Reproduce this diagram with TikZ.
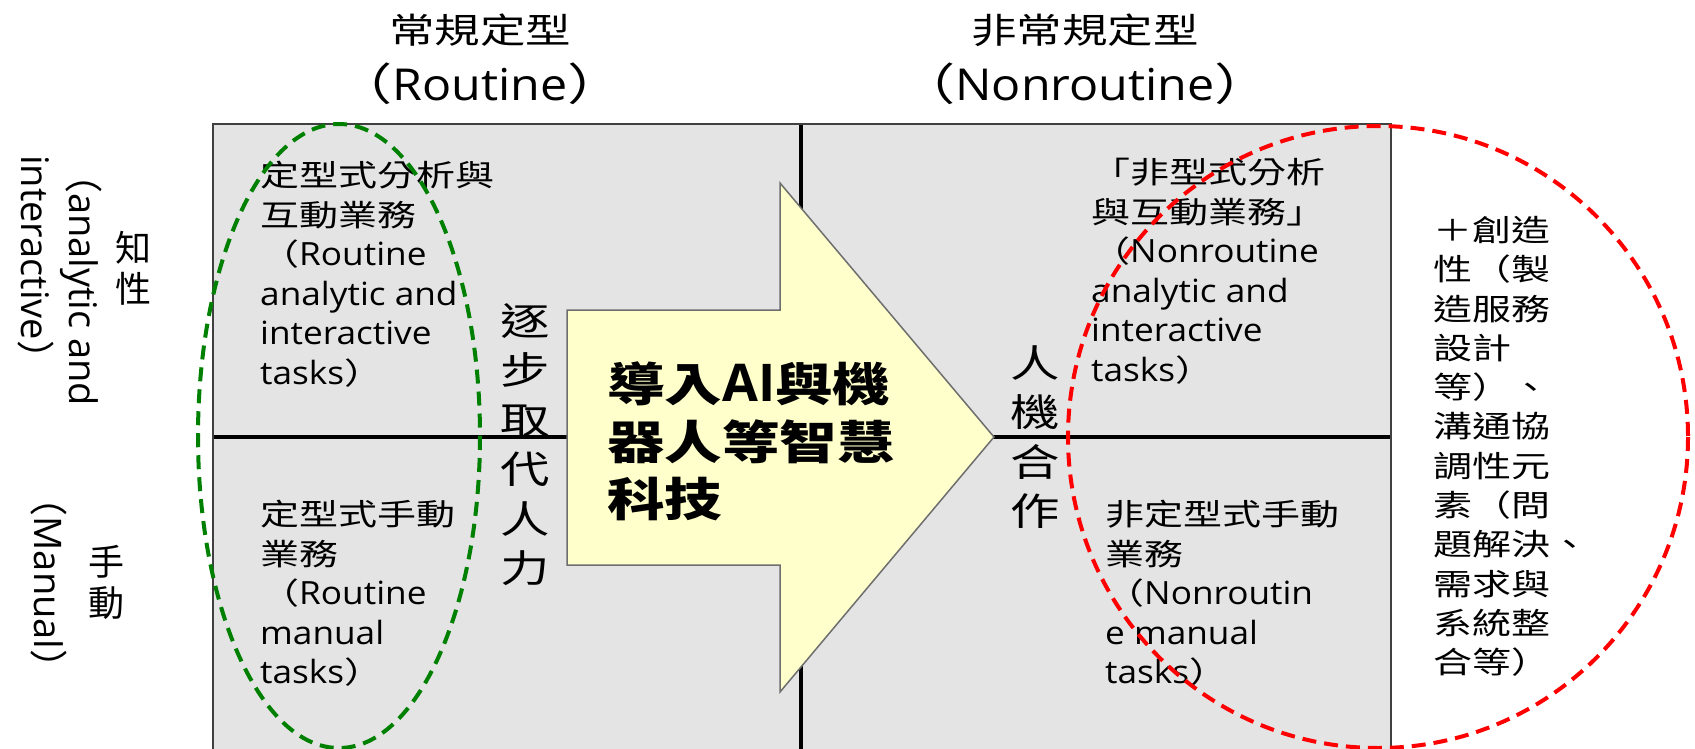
\documentclass[tikz,border=0pt]{standalone}
\usepackage{fontspec}
\usepackage{graphicx}
\setmainfont{Open Sans}
\newfontfamily\cjkS{Noto Sans CJK TC}[FakeStretch=1.3]
\newfontfamily\cjkT{Noto Sans CJK TC}[FakeStretch=1.25]
\newfontfamily\cjkN{Noto Sans CJK TC}
\newfontfamily\latS{Open Sans}[FakeStretch=1.1]
\newfontfamily\latN{Open Sans}
\newcommand\La[1]{{\latS\fontsize{32}{39.5}\selectfont #1}}
\newcommand\Ln[1]{{\latN #1}}
\definecolor{cellgray}{RGB}{228,228,228}
\definecolor{arrowyellow}{RGB}{255,255,204}
\definecolor{arrowedge}{RGB}{110,110,110}
\definecolor{ellgreen}{RGB}{0,128,0}
\definecolor{ellred}{RGB}{255,0,0}
\definecolor{bordergray}{RGB}{64,64,64}
\tikzset{
  cell/.style={font=\cjkS\fontsize{30}{39.5}\selectfont, align=left, inner sep=0pt, anchor=north west},
  vstack/.style={font=\cjkS\fontsize{38}{49.5}\selectfont, align=center, inner sep=0pt, anchor=north},
  title/.style={font=\cjkS\fontsize{35}{57}\selectfont, align=center, inner sep=0pt, anchor=north},
  sidecjk/.style={font=\cjkN\fontsize{36}{41}\selectfont, align=center, inner sep=0pt},
  sidelat/.style={font=\cjkN\fontsize{38}{48}\selectfont, align=left, inner sep=0pt, rotate=-90},
  dashell/.style={line width=4pt, dash pattern=on 14pt off 8pt},
}
\begin{document}
\begin{tikzpicture}[x=1pt,y=-1pt]
\useasboundingbox (0,0) rectangle (1695,749);
% grid
\fill[cellgray] (213,124) rectangle (1391,755);
\coordinate (midtop) at (801,124);
\coordinate (midbot) at (801,755);
\coordinate (midl) at (213,437);
\coordinate (midr) at (1391,437);
\draw[line width=4pt] (midtop) -- (midbot);
\draw[line width=3.5pt] (midl) -- (midr);
\draw[bordergray, line width=2pt] (213,755) -- (213,124) -- (1391,124) -- (1391,755);
% arrow
\draw[fill=arrowyellow, draw=arrowedge, line width=1.5pt]
  (567,310) -- (780,310) -- (780,183) -- (994,437) -- (780,692) -- (780,565) -- (567,565) -- cycle;
% titles
\node[title] (t1) at (480,14) {常規定型\\{\fontsize{44}{57}\selectfont （{\latS Routine}）}};
\node[title] (t2) at (1085,14) {非常規定型\\{\fontsize{44}{57}\selectfont （{\latS Nonroutine}）}};
% side labels
\node[sidecjk] (zhi) at (133,268) {知\\性};
\node[sidelat, anchor=north west] (ana) at (102,155) {（\Ln{analytic and}\\\Ln{interactive}）};
\node[sidecjk] (shou) at (106,582) {手\\動};
\node[sidelat] (man) at (49,583) {（\Ln{Manual}）};
% cells
\node[cell] (tl) at (260,161) {定型式分析與\\互動業務\\（\La{Routine}\\\La{analytic and}\\\La{interactive}\\\La{tasks}）};
\node[cell] (bl) at (260,500) {定型式手動\\業務\\（\La{Routine}\\\La{manual}\\\La{tasks}）};
\node[cell] (tr) at (1091,158) {「非型式分析\\與互動業務」\\（\La{Nonroutine}\\\La{analytic and}\\\La{interactive}\\\La{tasks}）};
\node[cell] (br) at (1105,500) {非定型式手動\\業務\\（\La{Nonroutin}\\\La{e manual}\\\La{tasks}）};
\node[cell, font=\cjkS\fontsize{30}{39.3}\selectfont] (rc) at (1433,216) {＋創造\\性（製\\造服務\\設計\\等）、\\溝通協\\調性元\\素（問\\題解決、\\需求與\\系統整\\合等）};
% vertical phrases
\node[vstack] (zhubu) at (525,303) {逐\\步\\取\\代\\人\\力};
\node[vstack] (renji) at (1035,345) {人\\機\\合\\作};
% arrow text
\node[font=\cjkT\bfseries\fontsize{46}{57.5}\selectfont, align=left, inner sep=0pt, anchor=north west] (ai) at (607,362)
  {導入{\latN\fontsize{52}{57.5}\selectfont AI}與機\\器人等智慧\\科技};
% ellipses
\draw[dashell, ellgreen] (339,436) ellipse [x radius=141, y radius=312];
\draw[dashell, ellred] (1378,437) ellipse [x radius=310, y radius=311];
\end{tikzpicture}
\end{document}
